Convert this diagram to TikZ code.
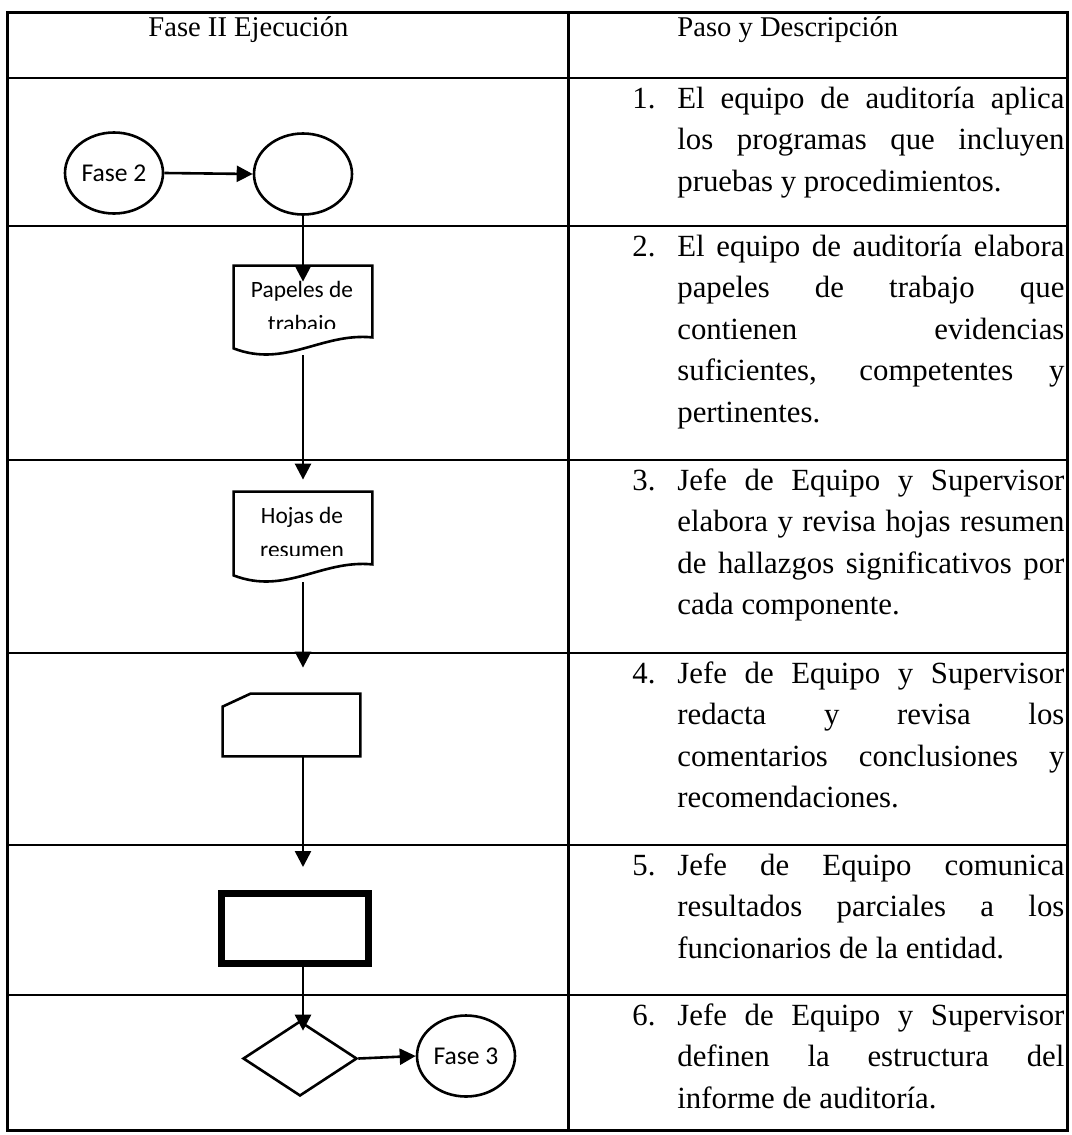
\documentclass[tikz,border=0pt]{standalone}
\usepackage{fontspec}
\setmainfont{Liberation Serif}
\newfontfamily\calibri{Carlito}
\usetikzlibrary{shapes.geometric,arrows.meta,positioning}

% one justified line of a step text
\newcommand\jl[1]{\makebox[\linewidth][s]{#1}\\}
% document symbol drawn round an empty node
\newcommand\docshape[1]{%
  \draw[shp] (#1.north east) -- (#1.north west) -- ([yshift=-5.5pt]#1.south west)
    .. controls ([xshift=26pt,yshift=-15.5pt]#1.south west) and ([xshift=-25.5pt,yshift=2.5pt]#1.south east) .. (#1.south east) -- cycle;}

\tikzset{
  frame/.style={line width=1.5pt},
  grid/.style={line width=1pt},
  shp/.style={line width=1.3pt},
  arr/.style={line width=1.3pt,-{Triangle[length=8pt,width=8pt]}},
  fase/.style={draw,shp,ellipse,inner sep=0pt,minimum width=49pt,minimum height=40.5pt,
    font=\calibri\fontsize{12.8}{15}\selectfont},
  docbox/.style={inner sep=0pt,minimum width=69pt,minimum height=35.5pt},
  doclbl/.style={anchor=base,inner sep=0pt,font=\calibri\fontsize{11.7}{14}\selectfont},
  hd/.style={anchor=base west,inner sep=0pt,font=\fontsize{14.3}{18}\selectfont},
  desc/.style={anchor=base west,inner sep=0pt,font=\fontsize{15.4}{20.75}\selectfont},
}

\begin{document}
\begin{tikzpicture}[x=0.5pt,y=-0.5pt]
  \useasboundingbox (0,0) rectangle (1071,1135);
  \coordinate (ax) at (303,0);

  % table
  \draw[frame] (7,12) rectangle (1067,1130);
  \draw[frame] (568,12) -- (568,1130);
  \foreach \y in {78,226,460,653,845,995} \draw[grid] (7,\y) -- (1067,\y);

  \node[hd] (h1) at (148,36) {Fase II Ejecución};
  \node[hd] (h2) at (677,36) {Paso y Descripción};

  % flow
  \node[fase] (f2) at (114,173) {Fase 2};
  \node[fase] (e1) at (303,174) {};

  \node[docbox] (pap) at (303,301.5) {};
  \docshape{pap}
  \begin{scope}
    \clip (pap.north west) rectangle ([yshift=4.5pt]pap.south east);
    \node[doclbl] (papa) at (302,297) {Papeles de};
    \node[doclbl] (papb) at (302,331) {trabajo};
  \end{scope}

  \node[docbox,minimum height=36pt] (hoj) at (303,528) {};
  \docshape{hoj}
  \begin{scope}
    \clip (hoj.north west) rectangle ([yshift=4.5pt]hoj.south east);
    \node[doclbl] (hoja) at (302,523) {Hojas de};
    \node[doclbl] (hojb) at (302,557) {resumen};
  \end{scope}

  \node[inner sep=0pt,minimum width=68.5pt,minimum height=31pt] (card) at (291.5,725) {};
  \draw[shp] (card.south west) -- ([yshift=-6.5pt]card.north west) -- ([xshift=14pt]card.north west)
    -- (card.north east) -- (card.south east) -- cycle;

  \node[draw,line width=3.5pt,inner sep=0pt,minimum width=73.5pt,minimum height=35pt] (res) at (295,928.5) {};

  \node[draw,shp,diamond,aspect=1.52,inner sep=0pt,minimum width=57pt,minimum height=37.5pt] (dec) at (300,1058.5) {};
  \node[fase] (f3) at (466,1056) {Fase 3};

  \draw[arr] (f2.east) -- (e1.west);
  \draw[arr] (e1.south) -- ([yshift=-8pt]pap.north);
  \draw[arr] ([yshift=-9pt]pap.south) -- ([yshift=6pt]hoj.north);
  \draw[arr] ([yshift=-9pt]hoj.south) -- ([yshift=13pt]card.north -| ax);
  \draw[arr] (card.south -| ax) -- ([yshift=11.5pt]res.north -| ax);
  \draw[arr] (res.south -| ax) -- ([yshift=-5.5pt]dec.north -| ax);
  \draw[arr] (dec.east) -- (f3.west);

  % steps
  \node[desc] (p1) at (632,108) {\makebox[22.5pt][l]{1.}\parbox[t]{193.5pt}{%
    \jl{El equipo de auditoría aplica}\jl{los programas que incluyen}pruebas y procedimientos.}};
  \node[desc] (p2) at (632,256) {\makebox[22.5pt][l]{2.}\parbox[t]{193.5pt}{%
    \jl{El equipo de auditoría elabora}\jl{papeles de trabajo que}\jl{contienen evidencias}%
    \jl{suficientes, competentes y}pertinentes.}};
  \node[desc] (p3) at (632,490) {\makebox[22.5pt][l]{3.}\parbox[t]{193.5pt}{%
    \jl{Jefe de Equipo y Supervisor}\jl{elabora y revisa hojas resumen}%
    \jl{de hallazgos significativos por}cada componente.}};
  \node[desc] (p4) at (632,683) {\makebox[22.5pt][l]{4.}\parbox[t]{193.5pt}{%
    \jl{Jefe de Equipo y Supervisor}\jl{redacta y revisa los}%
    \jl{comentarios conclusiones y}recomendaciones.}};
  \node[desc] (p5) at (632,875) {\makebox[22.5pt][l]{5.}\parbox[t]{193.5pt}{%
    \jl{Jefe de Equipo comunica}\jl{resultados parciales a los}funcionarios de la entidad.}};
  \node[desc] (p6) at (632,1025) {\makebox[22.5pt][l]{6.}\parbox[t]{193.5pt}{%
    \jl{Jefe de Equipo y Supervisor}\jl{definen la estructura del}informe de auditoría.}};
\end{tikzpicture}
\end{document}
